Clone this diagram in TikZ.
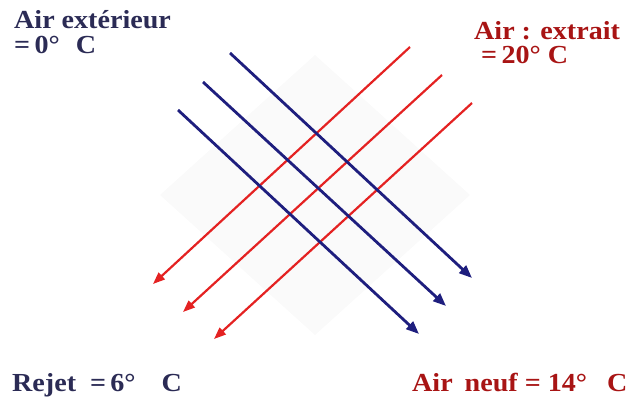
\documentclass[tikz,border=0pt]{standalone}
\usepackage{fontspec}
\setmainfont{Liberation Serif}
\newfontfamily\lblfont{Liberation Serif}[FakeStretch=1.08]
\usetikzlibrary{arrows.meta}
\definecolor{navytxt}{HTML}{2B2B55}
\definecolor{redtxt}{HTML}{A81414}
\definecolor{blueline}{HTML}{1E1E7E}
\definecolor{redline}{HTML}{E42222}
\begin{document}
\begin{tikzpicture}[x=1pt,y=-1pt,
  lbl/.style={font=\lblfont\bfseries\fontsize{26}{30}\selectfont, inner sep=0pt, anchor=base west},
  coldflow/.style={draw=blueline, line width=2.8pt, -{Triangle[length=13pt,width=10pt]}},
  warmflow/.style={draw=redline, line width=2.2pt, -{Triangle[length=12pt,width=9pt]}}]
\useasboundingbox (0,0) rectangle (635,401);
\fill[gray!4] (315,55) -- (470,195) -- (315,335) -- (160,195) -- cycle;
% labels
\node[lbl, text=navytxt] (ext1) at (14,29) {Air extérieur};
\node[lbl, text=navytxt] (ext2) at (14,54) {=\,0°\hspace{16pt}C};
\node[lbl, text=redtxt] (extr1) at (474,40) {Air : extrait};
\node[lbl, text=redtxt] (extr2) at (481,64) {=\,20°\hspace{7pt}C};
\node[lbl, text=navytxt] (rej) at (12,391) {Rejet\hspace{14pt}=\,6°\hspace{26pt}C};
\node[lbl, text=redtxt] (neuf) at (412,391) {Air\hspace{12pt}neuf = 14°\hspace{20pt}C};
% coordinates
\coordinate (b1s) at (230,53);  \coordinate (b1e) at (472,278);
\coordinate (b2s) at (203,82);  \coordinate (b2e) at (446,306);
\coordinate (b3s) at (178,110); \coordinate (b3e) at (419,334);
\coordinate (r1s) at (410,47);  \coordinate (r1e) at (153,284);
\coordinate (r2s) at (442,75);  \coordinate (r2e) at (183,312);
\coordinate (r3s) at (472,103); \coordinate (r3e) at (214,339);
% flows
\draw[warmflow] (r1s) -- (r1e);
\draw[warmflow] (r2s) -- (r2e);
\draw[warmflow] (r3s) -- (r3e);
\draw[coldflow] (b1s) -- (b1e);
\draw[coldflow] (b2s) -- (b2e);
\draw[coldflow] (b3s) -- (b3e);
\end{tikzpicture}
\end{document}
